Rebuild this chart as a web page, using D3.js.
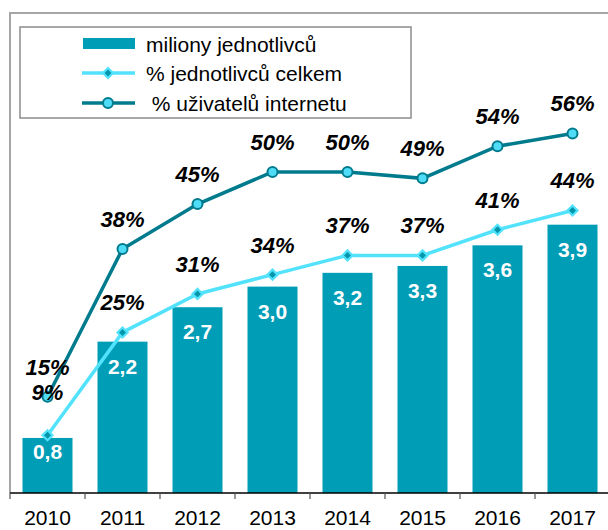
<!DOCTYPE html>
<html>
<head>
<meta charset="utf-8">
<script src="https://cdn.jsdelivr.net/npm/d3@7"></script>
<style>
  body { margin: 0; background: #fff; }
  svg { display: block; font-family: "Liberation Sans", Arial, sans-serif; }
</style>
</head>
<body>
<div id="chart"></div>
<script>
const years = ["2010", "2011", "2012", "2013", "2014", "2015", "2016", "2017"];
const millions = [0.8, 2.2, 2.7, 3.0, 3.2, 3.3, 3.6, 3.9];
const pctTotal = [9, 25, 31, 34, 37, 37, 41, 44];
const pctInternet = [15, 38, 45, 50, 50, 49, 54, 56];
const legendLabels = ["miliony jednotlivců", "% jednotlivců celkem", " % uživatelů internetu"];

const width = 608;
const height = 530;
const base = 493;

const barColor = "#009db7";
const lightLine = "#52e2fc";
const darkLine = "#007b8d";

const svg = d3.select("#chart")
  .append("svg")
  .attr("width", width)
  .attr("height", height);

const x = d3.scaleBand()
  .domain(years)
  .range([10, 610])
  .paddingInner(1 / 3)
  .paddingOuter(1 / 6);

const y = d3.scaleLinear()
  .domain([0, 7])
  .range([base, 11.4]);

const y2 = d3.scaleLinear()
  .domain([0, 75])
  .range([base, 11.4]);

const fmt = v => d3.format(".1f")(v).replace(".", ",");

// outer frame (top + left)
svg.append("path")
  .attr("d", `M10,${base} V13 H${width}`)
  .attr("fill", "none")
  .attr("stroke", "#a6a6a6")
  .attr("stroke-width", 2);

// bars
svg.selectAll("rect.bar")
  .data(millions)
  .enter()
  .append("rect")
  .attr("class", "bar")
  .attr("x", (d, i) => x(years[i]))
  .attr("y", d => y(d))
  .attr("width", x.bandwidth())
  .attr("height", d => base - y(d))
  .attr("fill", barColor);

svg.selectAll("text.barlabel")
  .data(millions)
  .enter()
  .append("text")
  .attr("class", "barlabel")
  .attr("x", (d, i) => x(years[i]) + x.bandwidth() / 2)
  .attr("y", d => Math.min(y(d) + 32, base - 34))
  .attr("text-anchor", "middle")
  .attr("fill", "#fff")
  .attr("font-weight", "bold")
  .attr("font-size", 21)
  .text(d => fmt(d));

// x axis
const cx = (d, i) => x(years[i]) + x.bandwidth() / 2;
const xb = d3.scaleLinear().domain([0, years.length]).range([10, 610]);

svg.append("line")
  .attr("x1", 10).attr("x2", width)
  .attr("y1", base).attr("y2", base)
  .attr("stroke", "#000")
  .attr("stroke-width", 1.5);

svg.selectAll("line.tick")
  .data(d3.range(years.length + 1))
  .enter()
  .append("line")
  .attr("class", "tick")
  .attr("x1", d => xb(d)).attr("x2", d => xb(d))
  .attr("y1", base).attr("y2", base + 6)
  .attr("stroke", "#555")
  .attr("stroke-width", 1.2);

svg.append("g")
  .attr("transform", `translate(0,${base})`)
  .call(d3.axisBottom(x).tickSize(0).tickPadding(17))
  .call(g => g.select(".domain").remove())
  .selectAll("text")
  .attr("font-family", "Liberation Sans, Arial, sans-serif")
  .attr("font-size", 21)
  .attr("fill", "#000")
  .attr("dy", "0.71em");

// lines
const line = d3.line()
  .x((d, i) => cx(d, i))
  .y(d => y2(d));

svg.append("path")
  .datum(pctInternet)
  .attr("fill", "none")
  .attr("stroke", darkLine)
  .attr("stroke-width", 3.5)
  .attr("d", line);

svg.append("path")
  .datum(pctTotal)
  .attr("fill", "none")
  .attr("stroke", lightLine)
  .attr("stroke-width", 3.5)
  .attr("d", line);

svg.selectAll("circle.pt")
  .data(pctInternet)
  .enter()
  .append("circle")
  .attr("class", "pt")
  .attr("cx", cx)
  .attr("cy", d => y2(d))
  .attr("r", 5)
  .attr("fill", "#4fdcf6")
  .attr("stroke", darkLine)
  .attr("stroke-width", 2);

const diamond = d3.symbol().type(d3.symbolDiamond2);

const dg = svg.selectAll("g.dm")
  .data(pctTotal)
  .enter()
  .append("g")
  .attr("class", "dm")
  .attr("transform", (d, i) => `translate(${cx(d, i)},${y2(d)})`);
dg.append("path").attr("d", diamond.size(110)()).attr("fill", lightLine);
dg.append("path").attr("d", diamond.size(30)()).attr("fill", "#0096ab");

// percent labels
function pctLabels(data, cls, offsetFn) {
  svg.selectAll("text." + cls)
    .data(data)
    .enter()
    .append("text")
    .attr("class", cls)
    .attr("x", cx)
    .attr("y", (d, i) => y2(d) - offsetFn(i))
    .attr("text-anchor", "middle")
    .attr("font-weight", "bold")
    .attr("font-style", "italic")
    .attr("font-size", 22)
    .attr("fill", "#000")
    .text(d => d + "%");
}
pctLabels(pctInternet, "lblI", () => 22);
pctLabels(pctTotal, "lblT", i => i === 0 ? 35 : 22);

// legend
const legend = svg.append("g");
legend.append("rect")
  .attr("x", 20).attr("y", 27)
  .attr("width", 391).attr("height", 91)
  .attr("fill", "#fff")
  .attr("stroke", "#8c8c8c")
  .attr("stroke-width", 1.5);

const ly = [44, 73, 103];
legend.append("rect")
  .attr("x", 83).attr("y", 38)
  .attr("width", 52).attr("height", 11)
  .attr("fill", barColor);

legend.append("line")
  .attr("x1", 82).attr("x2", 135)
  .attr("y1", ly[1]).attr("y2", ly[1])
  .attr("stroke", lightLine).attr("stroke-width", 3.5);
legend.append("g")
  .attr("transform", `translate(108,${ly[1]})`)
  .call(g => {
    g.append("path").attr("d", diamond.size(110)()).attr("fill", lightLine);
    g.append("path").attr("d", diamond.size(30)()).attr("fill", "#0096ab");
  });

legend.append("line")
  .attr("x1", 82).attr("x2", 135)
  .attr("y1", ly[2]).attr("y2", ly[2])
  .attr("stroke", darkLine).attr("stroke-width", 3.5);
legend.append("circle")
  .attr("cx", 108).attr("cy", ly[2]).attr("r", 5)
  .attr("fill", "#4fdcf6")
  .attr("stroke", darkLine).attr("stroke-width", 2);

legend.selectAll("text")
  .data(legendLabels)
  .enter()
  .append("text")
  .attr("x", 146)
  .attr("y", (d, i) => ly[i] + 8)
  .attr("font-size", 21)
  .attr("fill", "#000")
  .style("white-space", "pre")
  .text(d => d);
</script>
</body>
</html>
